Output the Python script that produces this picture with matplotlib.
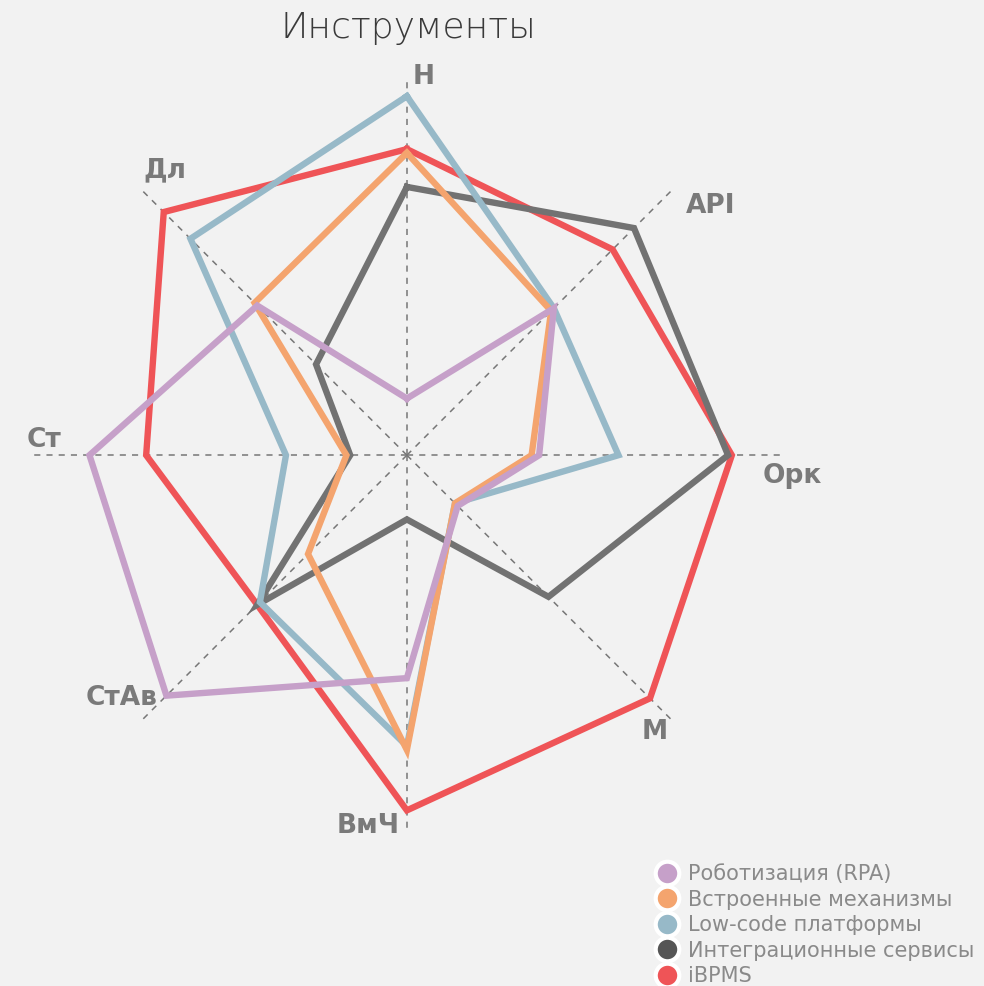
import numpy as np
import matplotlib.pyplot as plt

# axes, clockwise from the top
categories = ["Н", "API", "Орк", "М", "ВмЧ", "СтАв", "Ст", "Дл"]

series_names = ["Роботизация (RPA)", "Встроенные механизмы", "Low-code платформы",
                "Интеграционные сервисы", "iBPMS"]
rpa = [1.5, 5.5, 3.5, 1.9, 5.9, 9.0, 8.4, 5.6]
builtin = [8.0, 5.4, 3.3, 1.8, 7.8, 3.7, 1.6, 5.7]
lowcode = [9.5, 5.5, 5.6, 1.8, 7.7, 5.5, 3.2, 8.1]
integration = [7.1, 8.5, 8.5, 5.3, 1.7, 5.6, 1.5, 3.4]
ibpms = [8.1, 7.7, 8.6, 9.1, 9.4, 5.6, 6.9, 9.1]

colors = ["#C6A0C9", "#F4A46E", "#97B9C8", "#727272", "#EF5457"]
marker_colors = ["#C6A0C9", "#F4A46E", "#97B9C8", "#555555", "#EF5457"]
bg = "#F2F2F2"

fig = plt.figure(figsize=(9.84, 9.86), dpi=100, facecolor=bg)
ax = fig.add_axes([0.0295, 0.155, 0.768, 0.7667], projection="polar", facecolor=bg)
ax.set_theta_offset(np.pi / 2)
ax.set_theta_direction(-1)

n = len(categories)
angles = np.arange(n) * 2 * np.pi / n
closed = np.append(angles, angles[0])

all_vals = [rpa, builtin, lowcode, integration, ibpms]
for i, (vals, name) in enumerate(zip(all_vals, series_names)):
    v = np.append(vals, vals[0])
    ax.plot(closed, v, color=colors[i], lw=4.6, zorder=10 - i, solid_joinstyle="miter")
    # legend proxy
    ax.plot([], [], marker="o", ls="none", markersize=17, markerfacecolor=marker_colors[i],
            markeredgecolor="white", markeredgewidth=3, label=name)

ax.set_ylim(0, 10)
ax.set_yticks([])
ax.set_xticks(angles)
ax.set_xticklabels([])
ax.xaxis.grid(True, color="#777777", ls=(0, (4, 4)), lw=1.1)
ax.yaxis.grid(False)
ax.spines["polar"].set_visible(False)

# axis labels placed by hand around the chart
lab_pos = [(424, 77), (711, 206), (792, 476), (655, 732), (368, 826), (122, 698), (44, 440), (165, 170)]
for lab, (px, py) in zip(categories, lab_pos):
    fig.text(px / 984, 1 - py / 986, lab, ha="center", va="center", fontsize=19,
             fontweight="bold", color="#7A7A7A", family="DejaVu Sans")

fig.text(408 / 984, 1 - 28 / 986, "Инструменты", ha="center", va="center",
         fontsize=26, color="#3A3A3A", family="DejaVu Sans", fontweight="light")

fig.legend(loc="upper left", bbox_to_anchor=(646 / 984, 1 - 856 / 986), frameon=False,
           fontsize=15, labelcolor="#8A8A8A", handletextpad=0.4, labelspacing=0.26,
           borderaxespad=0, handlelength=1.2)

fig.savefig("out.png", dpi=100, facecolor=bg)
